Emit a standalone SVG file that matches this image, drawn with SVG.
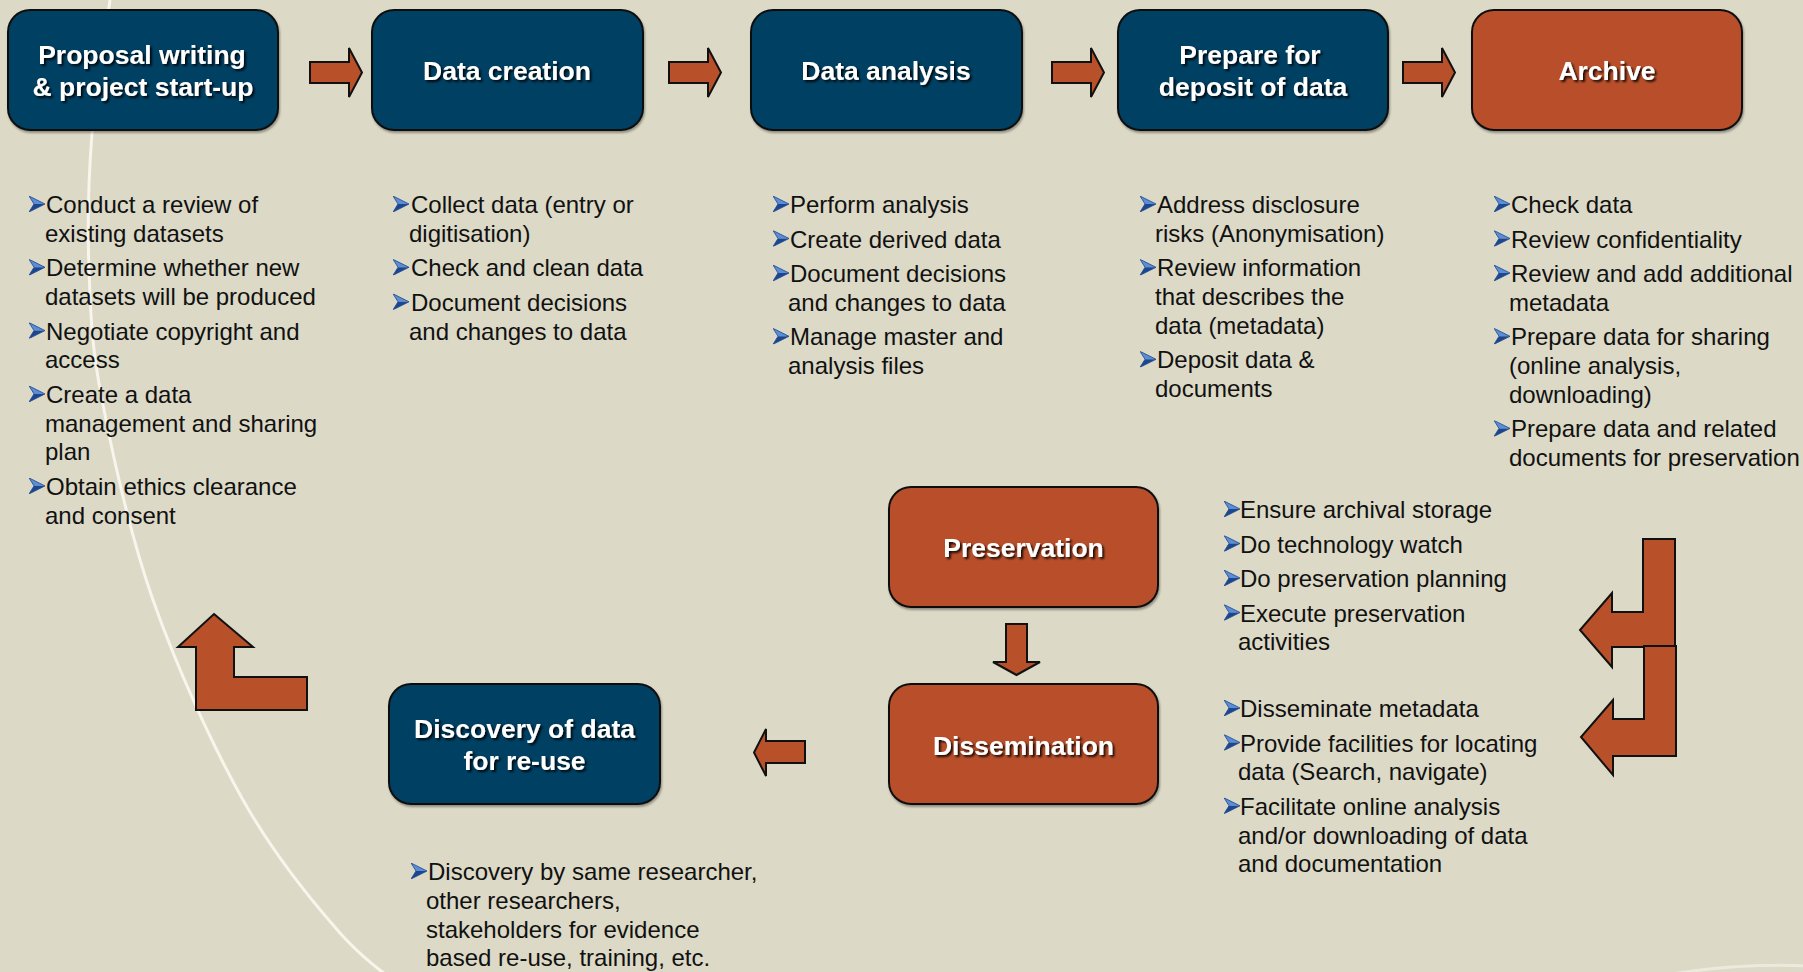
<svg xmlns="http://www.w3.org/2000/svg" xmlns:xlink="http://www.w3.org/1999/xlink" width="1803" height="972" viewBox="0 0 1803 972">
<defs>
<style>
.bg{fill:#DCD9C6}
.blue{fill:#003F63;stroke:#111;stroke-width:2}
.orange{fill:#B8502A;stroke:#111;stroke-width:2}
.arrow{fill:#B8502A;stroke:#111;stroke-width:2;stroke-linejoin:miter}
.lbl{font-family:"Liberation Sans",Arial,sans-serif;font-weight:bold;font-size:26.5px;fill:#fff;text-anchor:middle}
.note{font-family:"Liberation Sans",Arial,sans-serif;font-size:24px;fill:#111}
</style>
<filter id="ts" x="-10%" y="-30%" width="130%" height="160%">
<feDropShadow dx="2" dy="2" stdDeviation="1" flood-color="#000" flood-opacity="0.85"/>
</filter>
<filter id="bs" x="-5%" y="-5%" width="110%" height="115%">
<feDropShadow dx="1" dy="2" stdDeviation="1.2" flood-color="#000" flood-opacity="0.35"/>
</filter>
<symbol id="bul" viewBox="0 0 16 16" width="16" height="16">
<polygon points="0,0 16,8 5,8" fill="#5B8ED4"/>
<polygon points="5,8 16,8 0,16" fill="#1C4690"/>
<polygon points="0,0 16,8 0,16 5,8" fill="none" stroke="#1C4690" stroke-width="0.8"/>
</symbol>
</defs>
<rect class="bg" x="0" y="0" width="1803" height="972"/>
<g id="decor">
<path d="M110,0 C106.3,27.2 95.5,88 92,133 C88.5,178 87.3,225.5 89,270 C90.7,314.5 91.3,345 102,400 C112.7,455 129.5,533.3 153,600 C176.5,666.7 211.8,744.5 243,800 C274.2,855.5 310.5,899.7 340,933 C369.5,966.3 400,983.8 420,1000" fill="none" stroke="#F7F5EC" stroke-width="3"/>
<path d="M1672,974 Q1740,963 1810,966" fill="none" stroke="#F7F5EC" stroke-width="3" opacity="0.6"/>
</g>
<g id="connectors">
<polygon class="arrow" points="310,62 349,62 349,48 362,72.5 349,97 349,83 310,83"/>
<polygon class="arrow" points="669,62 708,62 708,48 721,72.5 708,97 708,83 669,83"/>
<polygon class="arrow" points="1052,62 1091,62 1091,48 1104,72.5 1091,97 1091,83 1052,83"/>
<polygon class="arrow" points="1403,62 1442,62 1442,48 1455,72.5 1442,97 1442,83 1403,83"/>
<polygon class="arrow" points="1675,539 1675,647 1612,647 1612,667 1580,630 1612,593 1612,612 1643,612 1643,539"/>
<polygon class="arrow" points="1676,646 1676,756 1613,756 1613,775 1581,737 1613,700 1613,719 1644,719 1644,646"/>
<polygon class="arrow" points="1006,624 1027,624 1027,662 1040,662 1016.5,675 993,662 1006,662"/>
<polygon class="arrow" points="805,741 766,741 766,729 754,752.5 766,776 766,763 805,763"/>
<polygon class="arrow" points="214,614 253,647 234,647 234,677 307,677 307,710 196,710 196,647 178,647"/>
</g>
<g id="node-proposal">
<rect class="blue" filter="url(#bs)" x="8" y="10" width="270" height="120" rx="22"/>
<text class="lbl" filter="url(#ts)" x="142" y="64">Proposal writing</text>
<text class="lbl" filter="url(#ts)" x="143" y="96">&amp; project start-up</text>
</g>
<g id="node-creation">
<rect class="blue" filter="url(#bs)" x="372" y="10" width="271" height="120" rx="22"/>
<text class="lbl" filter="url(#ts)" x="507" y="80">Data creation</text>
</g>
<g id="node-analysis">
<rect class="blue" filter="url(#bs)" x="751" y="10" width="271" height="120" rx="22"/>
<text class="lbl" filter="url(#ts)" x="886" y="80">Data analysis</text>
</g>
<g id="node-deposit">
<rect class="blue" filter="url(#bs)" x="1118" y="10" width="270" height="120" rx="22"/>
<text class="lbl" filter="url(#ts)" x="1250" y="64">Prepare for</text>
<text class="lbl" filter="url(#ts)" x="1253" y="96">deposit of data</text>
</g>
<g id="node-archive">
<rect class="orange" filter="url(#bs)" x="1472" y="10" width="270" height="120" rx="22"/>
<text class="lbl" filter="url(#ts)" x="1607" y="80">Archive</text>
</g>
<g id="node-preservation">
<rect class="orange" filter="url(#bs)" x="889" y="487" width="269" height="120" rx="22"/>
<text class="lbl" filter="url(#ts)" x="1023.5" y="557">Preservation</text>
</g>
<g id="node-dissemination">
<rect class="orange" filter="url(#bs)" x="889" y="684" width="269" height="120" rx="22"/>
<text class="lbl" filter="url(#ts)" x="1023.5" y="755">Dissemination</text>
</g>
<g id="node-discovery">
<rect class="blue" filter="url(#bs)" x="389" y="684" width="271" height="120" rx="22"/>
<text class="lbl" filter="url(#ts)" x="524.5" y="738">Discovery of data</text>
<text class="lbl" filter="url(#ts)" x="524.5" y="770">for re-use</text>
</g>
<g id="notes-proposal">
<use href="#bul" x="29" y="196"/><use href="#bul" x="29" y="259.3"/><use href="#bul" x="29" y="322.6"/><use href="#bul" x="29" y="385.9"/><use href="#bul" x="29" y="477.9"/>
<text class="note"><tspan x="46" y="213">Conduct a review of</tspan><tspan x="45" y="241.75">existing datasets</tspan><tspan x="46" y="276.3">Determine whether new</tspan><tspan x="45" y="305">datasets will be produced</tspan><tspan x="46" y="339.6">Negotiate copyright and</tspan><tspan x="45" y="368.4">access</tspan><tspan x="46" y="402.9">Create a data</tspan><tspan x="45" y="431.6">management and sharing</tspan><tspan x="45" y="460.4">plan</tspan><tspan x="46" y="494.9">Obtain ethics clearance</tspan><tspan x="45" y="523.7">and consent</tspan></text>
</g>
<g id="notes-creation">
<use href="#bul" x="393" y="196"/><use href="#bul" x="393" y="259.3"/><use href="#bul" x="393" y="293.8"/>
<text class="note"><tspan x="411" y="213">Collect data (entry or</tspan><tspan x="409" y="241.75">digitisation)</tspan><tspan x="411" y="276.3">Check and clean data</tspan><tspan x="411" y="310.8">Document decisions</tspan><tspan x="409" y="339.6">and changes to data</tspan></text>
</g>
<g id="notes-analysis">
<use href="#bul" x="773" y="196"/><use href="#bul" x="773" y="230.5"/><use href="#bul" x="773" y="265"/><use href="#bul" x="773" y="328.3"/>
<text class="note"><tspan x="790" y="213">Perform analysis</tspan><tspan x="790" y="247.5">Create derived data</tspan><tspan x="790" y="282">Document decisions</tspan><tspan x="788" y="310.8">and changes to data</tspan><tspan x="790" y="345.3">Manage master and</tspan><tspan x="788" y="374">analysis files</tspan></text>
</g>
<g id="notes-deposit">
<use href="#bul" x="1140" y="196"/><use href="#bul" x="1140" y="259.3"/><use href="#bul" x="1140" y="351.3"/>
<text class="note"><tspan x="1157" y="213">Address disclosure</tspan><tspan x="1155" y="241.75">risks (Anonymisation)</tspan><tspan x="1157" y="276.3">Review information</tspan><tspan x="1155" y="305">that describes the</tspan><tspan x="1155" y="333.8">data (metadata)</tspan><tspan x="1157" y="368.3">Deposit data &amp;</tspan><tspan x="1155" y="397">documents</tspan></text>
</g>
<g id="notes-archive">
<use href="#bul" x="1494" y="196"/><use href="#bul" x="1494" y="230.5"/><use href="#bul" x="1494" y="265"/><use href="#bul" x="1494" y="328.3"/><use href="#bul" x="1494" y="420.4"/>
<text class="note"><tspan x="1511" y="213">Check data</tspan><tspan x="1511" y="247.5">Review confidentiality</tspan><tspan x="1511" y="282">Review and add additional</tspan><tspan x="1509" y="310.8">metadata</tspan><tspan x="1511" y="345.3">Prepare data for sharing</tspan><tspan x="1509" y="374">(online analysis,</tspan><tspan x="1509" y="402.9">downloading)</tspan><tspan x="1511" y="437.4">Prepare data and related</tspan><tspan x="1509" y="466.1">documents for preservation</tspan></text>
</g>
<g id="notes-preservation">
<use href="#bul" x="1224" y="501"/><use href="#bul" x="1224" y="535.5"/><use href="#bul" x="1224" y="570"/><use href="#bul" x="1224" y="604.5"/>
<text class="note"><tspan x="1240" y="518">Ensure archival storage</tspan><tspan x="1240" y="552.5">Do technology watch</tspan><tspan x="1240" y="587">Do preservation planning</tspan><tspan x="1240" y="621.5">Execute preservation</tspan><tspan x="1238" y="650.3">activities</tspan></text>
</g>
<g id="notes-dissemination">
<use href="#bul" x="1224" y="700"/><use href="#bul" x="1224" y="734.5"/><use href="#bul" x="1224" y="797.8"/>
<text class="note"><tspan x="1240" y="717">Disseminate metadata</tspan><tspan x="1240" y="751.5">Provide facilities for locating</tspan><tspan x="1238" y="780.3">data (Search, navigate)</tspan><tspan x="1240" y="814.8">Facilitate online analysis</tspan><tspan x="1238" y="843.5">and/or downloading of data</tspan><tspan x="1238" y="872.3">and documentation</tspan></text>
</g>
<g id="notes-discovery">
<use href="#bul" x="411" y="863"/>
<text class="note"><tspan x="428" y="880">Discovery by same researcher,</tspan><tspan x="426" y="908.75">other researchers,</tspan><tspan x="426" y="937.5">stakeholders for evidence</tspan><tspan x="426" y="966.25">based re-use, training, etc.</tspan></text>
</g>
</svg>
